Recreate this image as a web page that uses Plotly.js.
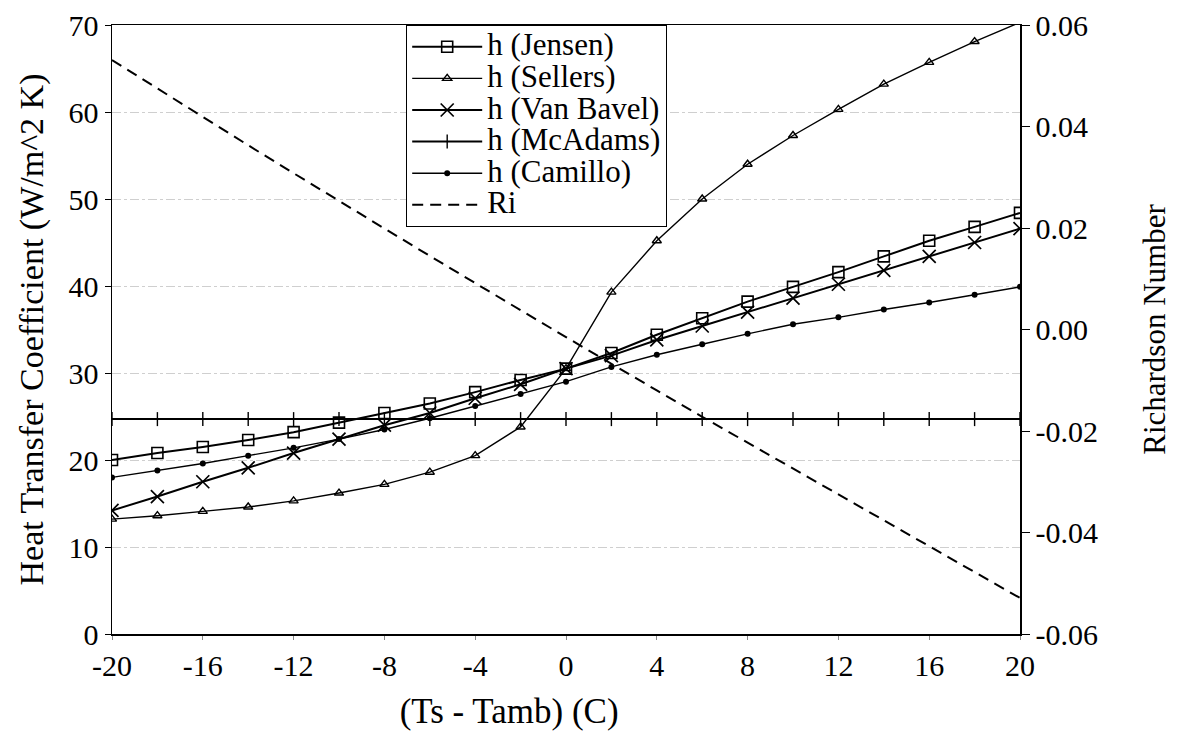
<!DOCTYPE html>
<html>
<head>
<meta charset="utf-8">
<script src="https://cdn.plot.ly/plotly-3.0.1.min.js"></script>
<style>html,body{margin:0;padding:0;background:#fff;}#chart{width:1187px;height:738px;}</style>
</head>
<body>
<div id="chart"></div>
<script>
const dT = [-20,-18,-16,-14,-12,-10,-8,-6,-4,-2,0,2,4,6,8,10,12,14,16,18,20];
const hJensen = [20.0,20.8,21.5,22.3,23.2,24.3,25.4,26.5,27.8,29.2,30.5,32.3,34.4,36.3,38.2,39.9,41.6,43.4,45.2,46.8,48.4];
const hSellers = [13.2,13.6,14.1,14.6,15.3,16.2,17.2,18.6,20.5,23.8,30.5,39.3,45.2,50.0,54.0,57.3,60.3,63.2,65.7,68.1,70.3];
const hVanBavel = [14.2,15.8,17.5,19.1,20.8,22.4,24.0,25.4,27.1,28.7,30.5,32.0,33.8,35.4,37.0,38.6,40.2,41.8,43.4,45.0,46.6];
const hMcAdams = [24.7,24.7,24.7,24.7,24.7,24.7,24.7,24.7,24.7,24.7,24.7,24.7,24.7,24.7,24.7,24.7,24.7,24.7,24.7,24.7,24.7];
const hCamillo = [18.0,18.8,19.6,20.5,21.4,22.4,23.5,24.8,26.2,27.6,29.0,30.7,32.1,33.3,34.5,35.6,36.4,37.3,38.1,39.0,39.9];
const Ri = [0.0531,0.0475,0.0418,0.0363,0.0308,0.0253,0.0199,0.0145,0.0091,0.0038,-0.0015,-0.0068,-0.0120,-0.0172,-0.0223,-0.0275,-0.0326,-0.0377,-0.0428,-0.0479,-0.0529];
const seriesNames = ['h (Jensen)','h (Sellers)','h (Van Bavel)','h (McAdams)','h (Camillo)','Ri'];
const xTicks = [-20,-16,-12,-8,-4,0,4,8,12,16,20];
const yTicks = [0,10,20,30,40,50,60,70];
const y2Ticks = [-0.06,-0.04,-0.02,0.00,0.02,0.04,0.06];
const y2Labels = ['-0.06','-0.04','-0.02','0.00','0.02','0.04','0.06'];

const FONT = 'Liberation Serif, Times New Roman, serif';
const black = '#000';
const lbl = s => '<span style="font-size:31px">' + s + '</span>';

const traces = [
  {x: dT, y: hJensen, name: lbl(seriesNames[0]), mode: 'lines+markers',
   line: {color: black, width: 2},
   marker: {symbol: 'square-open', size: 11, color: black, line: {width: 1.6, color: black}}},
  {x: dT, y: hSellers, name: lbl(seriesNames[1]), mode: 'lines+markers',
   line: {color: black, width: 1.4},
   marker: {symbol: 'triangle-up-open', size: 8, color: black, line: {width: 1.4, color: black}}},
  {x: dT, y: hVanBavel, name: lbl(seriesNames[2]), mode: 'lines+markers',
   line: {color: black, width: 2},
   marker: {symbol: 'x-thin-open', size: 13, color: black, line: {width: 1.7, color: black}}},
  {x: dT, y: hMcAdams, name: lbl(seriesNames[3]), mode: 'lines+markers',
   line: {color: black, width: 2},
   marker: {symbol: 'line-ns-open', size: 10, color: black, line: {width: 1.4, color: black}}},
  {x: dT, y: hCamillo, name: lbl(seriesNames[4]), mode: 'lines+markers',
   line: {color: black, width: 1.4},
   marker: {symbol: 'circle', size: 6, color: black}},
  {x: dT, y: Ri, name: lbl(seriesNames[5]), mode: 'lines', yaxis: 'y2',
   line: {color: black, width: 2, dash: '11px,7px'}}
];

const layout = {
  width: 1187, height: 738,
  margin: {l: 112, r: 167, t: 25, b: 104},
  paper_bgcolor: '#fff', plot_bgcolor: '#fff',
  font: {family: FONT, size: 30, color: black},
  showlegend: true,
  legend: {
    x: 0.324, y: 1.0, xanchor: 'left', yanchor: 'top',
    bgcolor: '#fff', bordercolor: black, borderwidth: 1,
    font: {family: FONT, size: 22, color: black},
    itemwidth: 70, tracegroupgap: 0
  },
  xaxis: {
    range: [-20, 20], tickvals: xTicks, ticktext: xTicks.map(String),
    showline: true, linecolor: black, linewidth: 1.5, mirror: true,
    ticks: 'outside', ticklen: 4, tickcolor: '#888',
    showgrid: false, zeroline: false,
    tickfont: {family: FONT, size: 30, color: black},
    title: {text: '(Ts - Tamb) (C)' + '\u00a0'.repeat(13) + '\u200b', font: {family: FONT, size: 35, color: black}, standoff: 18}
  },
  yaxis: {
    range: [0, 70], tickvals: yTicks, ticktext: yTicks.map(String),
    showline: true, linecolor: black, linewidth: 1.5,
    ticks: 'outside', ticklen: 6, tickcolor: black,
    showgrid: true, gridcolor: '#cfcfcf', griddash: 'dashdot', gridwidth: 1,
    zeroline: false,
    tickfont: {family: FONT, size: 30, color: black},
    title: {text: 'Heat Transfer Coefficient (W/m^2 K)', font: {family: FONT, size: 34, color: black}, standoff: 14}
  },
  yaxis2: {
    range: [-0.06, 0.06], tickvals: y2Ticks, ticktext: y2Labels,
    overlaying: 'y', side: 'right',
    showline: true, linecolor: black, linewidth: 1.5,
    ticks: 'outside', ticklen: 8, tickcolor: black,
    showgrid: false, zeroline: false,
    tickfont: {family: FONT, size: 30, color: black},
    title: {text: 'Richardson Number', font: {family: FONT, size: 31, color: black}, standoff: 46}
  }
};

Plotly.newPlot('chart', traces, layout, {displayModeBar: false, staticPlot: true});
</script>
</body>
</html>
